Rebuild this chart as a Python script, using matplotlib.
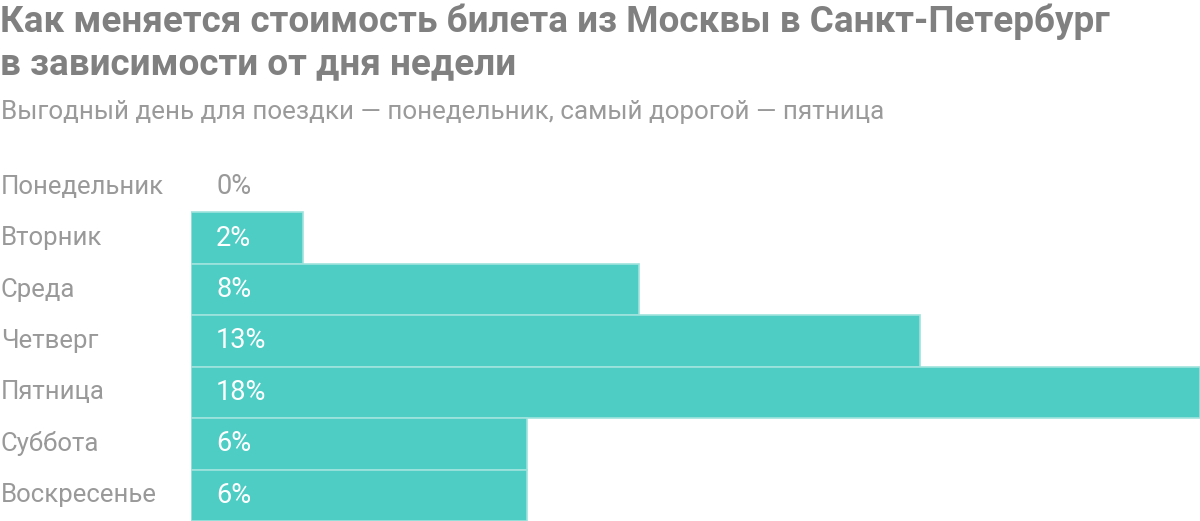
import matplotlib.pyplot as plt

plt.rcParams['font.family'] = ['Roboto', 'DejaVu Sans']

days = ['Понедельник', 'Вторник', 'Среда', 'Четверг', 'Пятница', 'Суббота', 'Воскресенье']
increase = [0, 2, 8, 13, 18, 6, 6]
labels = ['0%', '2%', '8%', '13%', '18%', '6%', '6%']

title_lines = ['Как меняется стоимость билета из Москвы в Санкт-Петербург',
               'в зависимости от дня недели']
subtitle = 'Выгодный день для поездки — понедельник, самый дорогой — пятница'

W, H = 1200, 521
fig = plt.figure(figsize=(W / 100, H / 100), dpi=100)

ax = fig.add_axes([191 / W, 0, 1 - 191 / W, (H - 161) / H])
y = list(range(len(days)))
edges = ['#9fe3dd' if v > 0 else 'none' for v in increase]
ax.barh(y, increase, height=1.0, color='#4ecdc4', edgecolor=edges, linewidth=1.2)
ax.set_xlim(0, 18)
ax.set_ylim(len(days) - 0.5, -0.5)
ax.axis('off')

for i, (day, lab) in enumerate(zip(days, labels)):
    ax.annotate(day, xy=(0, i), xycoords=('figure fraction', 'data'),
                xytext=(1, 0), textcoords='offset pixels',
                ha='left', va='center', fontsize=18.5, color='#999999')
    col = '#999999' if increase[i] == 0 else 'white'
    ax.annotate(lab, xy=(0, i), xytext=(25, 0), textcoords='offset pixels',
                ha='left', va='center', fontsize=19.5, color=col)

for k, line in enumerate(title_lines):
    fig.text(0, 1 - (32 + 42 * k) / H, line, ha='left', va='baseline', fontsize=26.6,
             fontweight='bold', color='#808080')
fig.text(1 / W, 1 - 119 / H, subtitle, ha='left', va='baseline', fontsize=18.7,
         color='#9a9a9a')

fig.savefig('out.png', dpi=100)
